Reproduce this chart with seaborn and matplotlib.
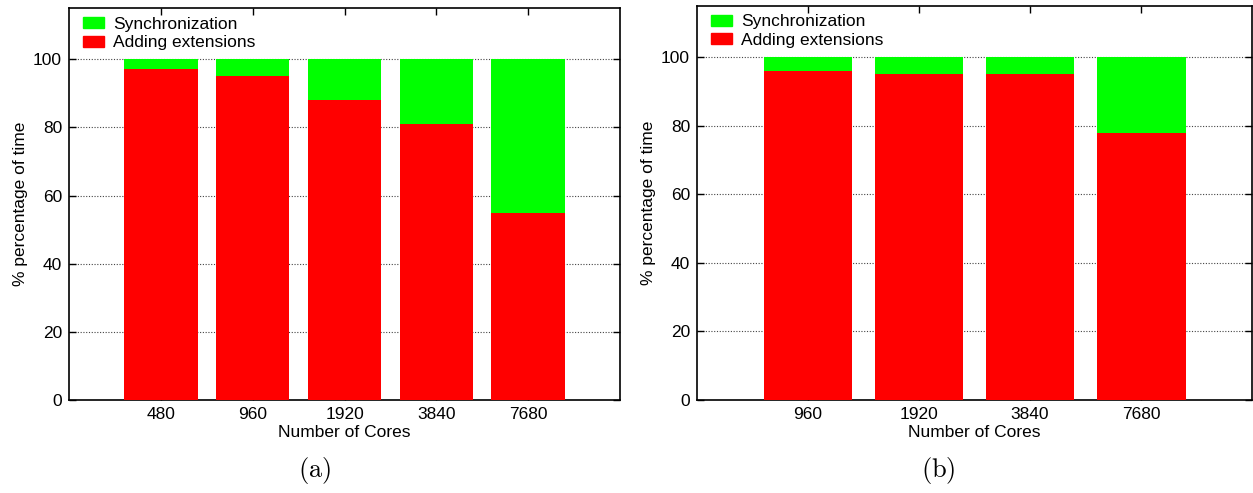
import numpy as np
import pandas as pd
import seaborn as sns
import matplotlib.pyplot as plt
from matplotlib.patches import Patch

# data
cores_a = ['480', '960', '1920', '3840', '7680']
adding_a = [97, 95, 88, 81, 55]
sync_a = [3, 5, 12, 19, 45]

cores_b = ['960', '1920', '3840', '7680']
adding_b = [96, 95, 95, 78]
sync_b = [4, 5, 5, 22]

green = '#00ff00'
red = '#ff0000'

sns.set_theme(style='white')
plt.rcParams['font.family'] = ['Liberation Sans', 'DejaVu Sans']
plt.rcParams['mathtext.fontset'] = 'cm'
plt.rcParams['text.color'] = 'black'
plt.rcParams['axes.labelcolor'] = 'black'
plt.rcParams['xtick.color'] = 'black'
plt.rcParams['ytick.color'] = 'black'

fig = plt.figure(figsize=(12.53, 4.93), dpi=100)
ax_a = fig.add_axes([0.0551, 0.1886, 0.4397, 0.795])
ax_b = fig.add_axes([0.5563, 0.1886, 0.4430, 0.800])


def draw(ax, cores, adding, sync):
    df = pd.DataFrame({'cores': cores, 'adding': adding, 'sync': sync})
    df['total'] = df['adding'] + df['sync']
    ax.grid(False)
    for y in [20, 40, 60, 80, 100]:
        ax.axhline(y, color='#444444', lw=0.8, ls=(0, (1, 1.5)), zorder=0)
    sns.barplot(data=df, x='cores', y='total', color=green, saturation=1,
                width=0.8, linewidth=0, ax=ax, zorder=2)
    sns.barplot(data=df, x='cores', y='adding', color=red, saturation=1,
                width=0.8, linewidth=0, ax=ax, zorder=3)
    ax.set_xlim(-1, len(cores))
    ax.set_ylim(0, 115)
    ax.set_yticks([0, 20, 40, 60, 80, 100])
    ax.set_xlabel('Number of Cores', fontsize=12.5, labelpad=2)
    ax.set_ylabel('% percentage of time', fontsize=12.5, labelpad=4)
    ax.tick_params(axis='both', which='both', direction='in', length=5,
                   width=1, color='black', labelsize=12.5, top=True, right=True,
                   bottom=True, left=True, pad=5)
    for s in ax.spines.values():
        s.set_color('black')
        s.set_linewidth(1.2)
    handles = [Patch(color=green, label='Synchronization'),
               Patch(color=red, label='Adding extensions')]
    ax.legend(handles=handles, loc='upper left', bbox_to_anchor=(0.01, 1.0),
              frameon=False, fontsize=12.5,
              handlelength=1.2, handleheight=0.6, labelspacing=0.2,
              borderaxespad=0.1, handletextpad=0.5)


draw(ax_a, cores_a, adding_a, sync_a)
draw(ax_b, cores_b, adding_b, sync_b)

fig.text(315 / 1253, 1 - 470 / 493, r'$\mathrm{(a)}$', fontsize=19,
         ha='center', va='center')
fig.text(938 / 1253, 1 - 470 / 493, r'$\mathrm{(b)}$', fontsize=19,
         ha='center', va='center')

fig.savefig('out.png', dpi=100)
